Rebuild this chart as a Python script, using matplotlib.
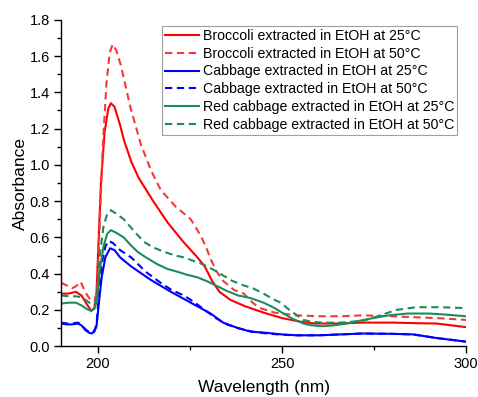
import matplotlib
matplotlib.use("Agg")
import matplotlib.pyplot as plt
from matplotlib.ticker import MultipleLocator

plt.rcParams['font.family'] = ['Liberation Sans', 'DejaVu Sans']

labels = ["Broccoli extracted in EtOH at 25°C", "Broccoli extracted in EtOH at 50°C",
          "Cabbage extracted in EtOH at 25°C", "Cabbage extracted in EtOH at 50°C",
          "Red cabbage extracted in EtOH at 25°C", "Red cabbage extracted in EtOH at 50°C"]

wl_b25 = [190, 192, 194, 195.5, 197, 198.2, 199, 199.6, 200.2, 200.8, 201.8, 202.8, 203.5, 204.5, 206, 207,
          209, 211, 215, 219, 223, 227, 229, 231, 233, 236, 240, 245, 250, 255, 259, 265, 272, 280, 286, 292, 296, 300]
b25 = [0.29, 0.29, 0.30, 0.28, 0.23, 0.195, 0.21, 0.30, 0.60, 0.90, 1.18, 1.31, 1.34, 1.32, 1.22, 1.14,
       1.02, 0.93, 0.80, 0.68, 0.58, 0.49, 0.44, 0.36, 0.30, 0.255, 0.22, 0.185, 0.155, 0.135, 0.125, 0.125, 0.13, 0.13, 0.127, 0.125, 0.115, 0.105]

wl_b50 = [190, 191.5, 193, 194, 195.3, 196.5, 197.6, 199, 199.8, 200.5, 201.3, 202.3, 203.2, 204, 205, 206.2,
          208.9, 211.7, 214.4, 217.1, 221.1, 225.2, 227.9, 229.5, 230.6, 232.3, 234, 237, 239.6, 242, 244,
          248, 254, 260, 266, 272, 280, 285.6, 292, 296, 300]
b50 = [0.35, 0.335, 0.32, 0.33, 0.355, 0.30, 0.265, 0.25, 0.30, 0.70, 1.10, 1.45, 1.62, 1.665, 1.63, 1.55,
       1.31, 1.11, 0.97, 0.86, 0.77, 0.70, 0.61, 0.54, 0.48, 0.41, 0.36, 0.31, 0.29, 0.24, 0.21,
       0.185, 0.17, 0.165, 0.165, 0.17, 0.165, 0.16, 0.155, 0.15, 0.145]

wl_c25 = [190, 191.5, 193, 194.5, 195.5, 196.5, 197.5, 198.3, 199, 199.6, 200.3, 201, 202, 203.3, 204.5, 206,
          209, 214.4, 219.8, 225.2, 230.6, 234, 238, 241.5, 245, 250, 254, 260, 266, 272, 280, 285.6, 292, 296, 300]
c25 = [0.125, 0.12, 0.12, 0.125, 0.115, 0.09, 0.075, 0.07, 0.08, 0.11, 0.25, 0.38, 0.49, 0.54, 0.53, 0.49,
       0.44, 0.365, 0.30, 0.24, 0.18, 0.13, 0.10, 0.08, 0.075, 0.065, 0.06, 0.06, 0.065, 0.07, 0.068, 0.065, 0.045, 0.035, 0.025]

wl_c50 = [190, 191.5, 193, 194.5, 195.5, 196.5, 197.5, 198.3, 199, 199.6, 200.3, 201, 202, 202.8, 204, 206,
          209, 213, 217, 220, 223.3, 226, 229, 232, 235, 238, 242, 246, 250, 254, 260, 266, 272, 280, 285.6, 292, 296, 300]
c50 = [0.13, 0.125, 0.125, 0.13, 0.12, 0.095, 0.08, 0.075, 0.085, 0.12, 0.30, 0.45, 0.55, 0.58, 0.57, 0.53,
       0.49, 0.41, 0.35, 0.31, 0.28, 0.245, 0.20, 0.155, 0.12, 0.10, 0.08, 0.07, 0.063, 0.06, 0.06, 0.065, 0.07, 0.068, 0.065, 0.045, 0.035, 0.025]

wl_r25 = [190, 192, 194, 195.5, 197, 198, 199, 199.7, 200.5, 201.5, 202.5, 203.5, 205, 207, 209, 210.8, 213,
          216.3, 219, 221.7, 224, 227, 230, 232.5, 235, 238, 241.5, 245, 248, 250.4, 253, 255.8, 258, 261,
          264, 267.7, 271, 274.8, 279, 284, 290, 294, 300]
r25 = [0.235, 0.24, 0.24, 0.225, 0.205, 0.195, 0.205, 0.25, 0.42, 0.55, 0.62, 0.64, 0.625, 0.60, 0.555, 0.52, 0.49,
       0.45, 0.425, 0.41, 0.395, 0.38, 0.355, 0.33, 0.305, 0.28, 0.265, 0.24, 0.21, 0.18, 0.15, 0.125, 0.115, 0.11,
       0.115, 0.125, 0.14, 0.155, 0.17, 0.18, 0.18, 0.175, 0.165]

wl_r50 = [190, 192, 194, 195.5, 197, 198.3, 199.2, 199.8, 200.5, 201.5, 202.5, 203.5, 205, 207, 210, 212.5, 215,
          218, 221, 223.3, 226, 228.7, 231.5, 234, 236.5, 239.6, 242, 245, 247.5, 249.6, 252, 255.8, 258, 261,
          266, 272, 276, 281, 286.5, 292, 296, 300]
r50 = [0.28, 0.275, 0.275, 0.27, 0.25, 0.23, 0.24, 0.30, 0.50, 0.66, 0.73, 0.75, 0.73, 0.70, 0.63, 0.575, 0.545,
       0.52, 0.50, 0.49, 0.47, 0.45, 0.42, 0.39, 0.36, 0.335, 0.32, 0.29, 0.26, 0.24, 0.20, 0.145, 0.135, 0.13,
       0.13, 0.14, 0.165, 0.20, 0.215, 0.215, 0.213, 0.21]

red = "#FF0000"
red_d = "#F23A3A"
blue = "#0000FF"
green = "#1C8C5C"

fig = plt.figure(figsize=(4.78, 3.97), dpi=100)
ax = fig.add_axes([0.128, 0.128, 0.847, 0.822])

dash = (0, (3.5, 2.2))
lw = 1.5
ax.plot(wl_b25, b25, color=red, lw=lw, label=labels[0])
ax.plot(wl_b50, b50, color=red_d, lw=lw, ls=dash, label=labels[1])
ax.plot(wl_c25, c25, color=blue, lw=lw, label=labels[2])
ax.plot(wl_c50, c50, color=blue, lw=lw, ls=dash, label=labels[3])
ax.plot(wl_r25, r25, color=green, lw=lw, label=labels[4])
ax.plot(wl_r50, r50, color=green, lw=lw, ls=dash, label=labels[5])

ax.set_xlim(190, 300)
ax.set_ylim(0, 1.8)
ax.xaxis.set_major_locator(MultipleLocator(50))
ax.xaxis.set_minor_locator(MultipleLocator(25))
ax.yaxis.set_major_locator(MultipleLocator(0.2))
ax.yaxis.set_minor_locator(MultipleLocator(0.1))
ax.yaxis.set_major_formatter(plt.FormatStrFormatter('%.1f'))
ax.spines['top'].set_visible(False)
ax.spines['right'].set_visible(False)
for s in ('left', 'bottom'):
    ax.spines[s].set_linewidth(1.0)
ax.tick_params(which='major', direction='out', length=5, width=1.0, labelsize=10.5, pad=3)
ax.tick_params(which='minor', direction='out', length=3, width=1.0)

ax.set_xlabel("Wavelength (nm)", fontsize=12.5, labelpad=6)
ax.set_ylabel("Absorbance", fontsize=12.5, labelpad=1)

leg = ax.legend(loc='upper left', bbox_to_anchor=(162 / 478, 1 - 26 / 397), bbox_transform=fig.transFigure,
                fontsize=10.2, frameon=True, fancybox=False,
                handlelength=2.4, handletextpad=0.28, labelspacing=0.27, borderpad=0.2, borderaxespad=0.0)
leg.get_frame().set_edgecolor('#888888')
leg.get_frame().set_linewidth(0.8)

fig.savefig("out.png", dpi=100)
